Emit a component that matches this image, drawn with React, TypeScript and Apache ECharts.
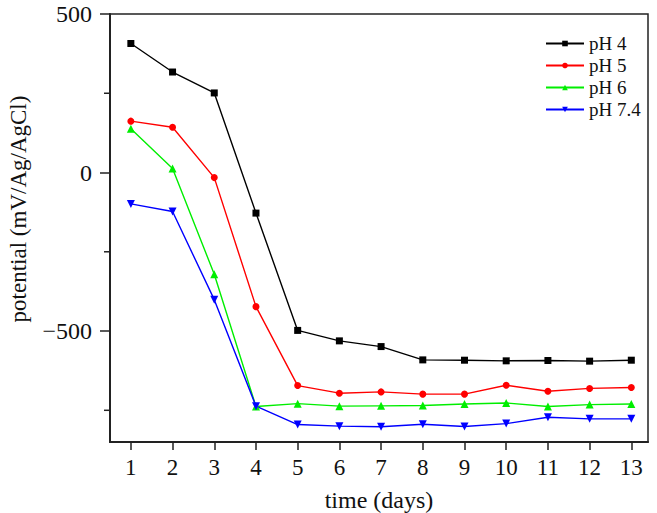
import React, { useEffect, useRef } from "react";
import * as echarts from "echarts";

const days = [1, 2, 3, 4, 5, 6, 7, 8, 9, 10, 11, 12, 13];
const ph4 = [407, 317, 251, -128, -498, -531, -549, -591, -592, -594, -593, -595, -592];
const ph5 = [162, 143, -16, -423, -672, -696, -692, -699, -699, -671, -690, -681, -678];
const ph6 = [138, 13, -321, -738, -729, -737, -736, -735, -730, -727, -738, -732, -730];
const ph74 = [-99, -123, -401, -737, -795, -800, -802, -794, -801, -792, -772, -777, -777];
const yMajor = [-500, 0, 500];
const yMinor = [-750, -250, 250];
const X_MIN = 0.5;

const FONT = '"Liberation Serif", "Times New Roman", serif';

export default function App() {
  const ref = useRef<HTMLDivElement>(null);
  useEffect(() => {
    const chart = echarts.init(ref.current!, null, { renderer: "svg" });
    const mk = (name: string, data: number[], color: string, symbol: string, size: number) => ({
      name,
      type: "line",
      data: days.map((d, i) => [d, data[i]]),
      symbol,
      symbolSize: size,
      lineStyle: { color, width: 1.4 },
      itemStyle: { color },
      z: 3,
    });
    chart.setOption({
      animation: false,
      backgroundColor: "#fff",
      grid: {
        left: 110,
        top: 14,
        right: 9,
        bottom: 71,
        outerBoundsMode: "none",
        containLabel: false,
        show: true,
        borderColor: "#222",
        borderWidth: 1.5,
      },
      graphic: [
        {
          type: "text",
          x: 18,
          y: 209,
          rotation: Math.PI / 2,
          style: {
            text: "potential (mV/Ag/AgCl)",
            fontFamily: FONT,
            fontSize: 23,
            fill: "#111",
            align: "center",
            verticalAlign: "middle",
          },
        },
      ],
      legend: {
        orient: "vertical",
        left: 545,
        top: 34,
        padding: 0,
        itemWidth: 38,
        itemHeight: 7,
        itemGap: 3,
        textStyle: { fontFamily: FONT, fontSize: 19, color: "#111", padding: [0, 0, 0, 0] },
        data: ["pH 4", "pH 5", "pH 6", "pH 7.4"],
      },
      xAxis: {
        type: "value",
        min: X_MIN,
        max: 13.4,
        name: "time (days)",
        nameLocation: "middle",
        nameGap: 46,
        nameTextStyle: { fontFamily: FONT, fontSize: 24, color: "#111" },
        axisLine: { show: true, onZero: false, lineStyle: { color: "#222", width: 2 } },
        axisTick: { show: true, length: 8, lineStyle: { color: "#222", width: 1.5 }, customValues: days },
        axisLabel: { fontFamily: FONT, fontSize: 23, color: "#111", margin: 14, customValues: days },
        splitLine: { show: false },
      },
      yAxis: {
        type: "value",
        min: -850,
        max: 500,
        axisLine: { show: true, onZero: false, lineStyle: { color: "#222", width: 2 } },
        axisTick: { show: true, length: 10, lineStyle: { color: "#222", width: 1.5 }, customValues: yMajor },
        axisLabel: {
          fontFamily: FONT,
          fontSize: 24,
          color: "#111",
          margin: 18,
          customValues: yMajor,
          formatter: (v: number) => (v < 0 ? "\u2212" + Math.abs(v) : String(v)),
        },
        splitLine: { show: false },
      },
      series: [
        mk("pH 4", ph4, "#000000", "rect", 7),
        mk("pH 5", ph5, "#ff0000", "circle", 7),
        mk("pH 6", ph6, "#00ee00", "triangle", 8),
        { ...mk("pH 7.4", ph74, "#0000ff", "triangle", 8), symbolRotate: 180 },
        {
          type: "custom",
          name: "minorTicks",
          clip: false,
          silent: true,
          data: yMinor.map((v) => [X_MIN, v]),
          renderItem: (params: any, api: any) => {
            const p = api.coord([api.value(0), api.value(1)]);
            return {
              type: "line",
              shape: { x1: p[0] - 6, y1: p[1], x2: p[0], y2: p[1] },
              style: { stroke: "#222", lineWidth: 1.5 },
            };
          },
          z: 5,
        },
      ],
    });
    return () => chart.dispose();
  }, []);
  return <div ref={ref} style={{ width: 657, height: 513, position: "absolute", left: 0, top: 0 }} />;
}
